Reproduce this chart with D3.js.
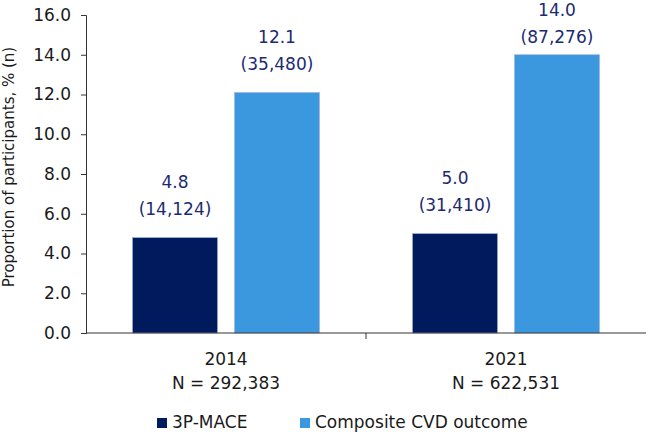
<!DOCTYPE html>
<html>
<head>
<meta charset="utf-8">
<script src="https://cdn.jsdelivr.net/npm/d3@7"></script>
<style>
  body { margin: 0; background: #fff; }
  text { font-family: "DejaVu Sans", Verdana, sans-serif; }
</style>
</head>
<body>
<script>
// data
var years = ["2014", "2021"];
var totals = [292383, 622531];
var seriesNames = ["3P-MACE", "Composite CVD outcome"];
var macePct = [4.8, 5.0];
var maceN = [14124, 31410];
var cvdPct = [12.1, 14.0];
var cvdN = [35480, 87276];
var yTicks = [0, 2, 4, 6, 8, 10, 12, 14, 16];

var colors = ["#001a5e", "#3b97de"];
var labelColor = "#1c2a72";

var w = 646, h = 434;
var svg = d3.select("body").append("svg").attr("width", w).attr("height", h);

var plotL = 86, plotR = 646, plotT = 15, plotB = 333;

var xS = d3.scaleBand().domain(years).range([plotL, plotR]).padding(0);
var subS = d3.scaleBand().domain(seriesNames).range([0, xS.bandwidth()])
    .paddingInner(17 / 102).paddingOuter(0.456);
var yS = d3.scaleLinear().domain([0, 16]).range([plotB, plotT]);

var rows = [];
years.forEach(function (y, i) {
    rows.push({year: y, s: seriesNames[0], v: macePct[i], n: maceN[i]});
    rows.push({year: y, s: seriesNames[1], v: cvdPct[i], n: cvdN[i]});
});
var col = d3.scaleOrdinal().domain(seriesNames).range(colors);

// bars
svg.selectAll("rect.bar").data(rows).enter().append("rect")
    .attr("class", "bar")
    .attr("x", function (d) { return xS(d.year) + subS(d.s); })
    .attr("y", function (d) { return yS(d.v); })
    .attr("width", subS.bandwidth())
    .attr("height", function (d) { return plotB - yS(d.v); })
    .attr("fill", function (d) { return col(d.s); })
    .attr("stroke", "#9fb0d6")
    .attr("stroke-width", 0.6);

// value labels (pushed down when they would run off the top)
var fmtN = d3.format(",");
var lab = svg.selectAll("g.lab").data(rows).enter().append("g")
    .attr("transform", function (d) {
        var y0 = Math.max(yS(d.v) - 50, 16);
        return "translate(" + (xS(d.year) + subS(d.s) + subS.bandwidth() / 2) + "," + y0 + ")";
    });
lab.append("text").text(function (d) { return d.v.toFixed(1); })
    .attr("y", 0).attr("text-anchor", "middle")
    .attr("font-size", "17px").attr("fill", labelColor);
lab.append("text").text(function (d) { return "(" + fmtN(d.n) + ")"; })
    .attr("y", 27).attr("text-anchor", "middle")
    .attr("font-size", "17px").attr("fill", labelColor);

// y axis
var yA = d3.axisLeft(yS).tickValues(yTicks).tickFormat(d3.format(".1f"))
    .tickSizeOuter(0).tickSize(5).tickPadding(10);
var gy = svg.append("g").attr("transform", "translate(" + plotL + ",0)").call(yA);
gy.selectAll("text").attr("font-size", "17px").attr("fill", "#1a1a1a")
    .style("font-family", "'DejaVu Sans', Verdana, sans-serif");
gy.selectAll("line, path").attr("stroke", "#333");

// x axis line and category separator ticks
svg.append("line").attr("x1", plotL).attr("x2", plotR)
    .attr("y1", plotB).attr("y2", plotB).attr("stroke", "#333");
svg.selectAll("line.sep").data(years.slice(1)).enter().append("line")
    .attr("x1", function (d) { return xS(d); }).attr("x2", function (d) { return xS(d); })
    .attr("y1", plotB).attr("y2", plotB + 6).attr("stroke", "#333");

// category labels
var cat = svg.selectAll("g.cat").data(years).enter().append("g")
    .attr("transform", function (d) { return "translate(" + (xS(d) + xS.bandwidth() / 2) + ",0)"; });
cat.append("text").text(function (d) { return d; })
    .attr("y", 365).attr("text-anchor", "middle").attr("font-size", "17px").attr("fill", "#1a1a1a");
cat.append("text").text(function (d, i) { return "N = " + fmtN(totals[i]); })
    .attr("y", 389).attr("text-anchor", "middle").attr("font-size", "17px").attr("fill", "#1a1a1a");

// y title
svg.append("text").text("Proportion of participants, % (n)")
    .attr("transform", "translate(14," + 167 + ") rotate(-90)")
    .attr("text-anchor", "middle").attr("font-size", "15px").attr("fill", "#1a1a1a");

// legend
var legX = [157, 300];
var leg = svg.selectAll("g.leg").data(seriesNames).enter().append("g")
    .attr("transform", function (d, i) { return "translate(" + legX[i] + ",418)"; });
leg.append("rect").attr("width", 10).attr("height", 10).attr("fill", function (d) { return col(d); });
leg.append("text").text(function (d) { return d; })
    .attr("x", 15).attr("y", 10).attr("font-size", "17px").attr("fill", "#1a1a1a");
</script>
</body>
</html>
